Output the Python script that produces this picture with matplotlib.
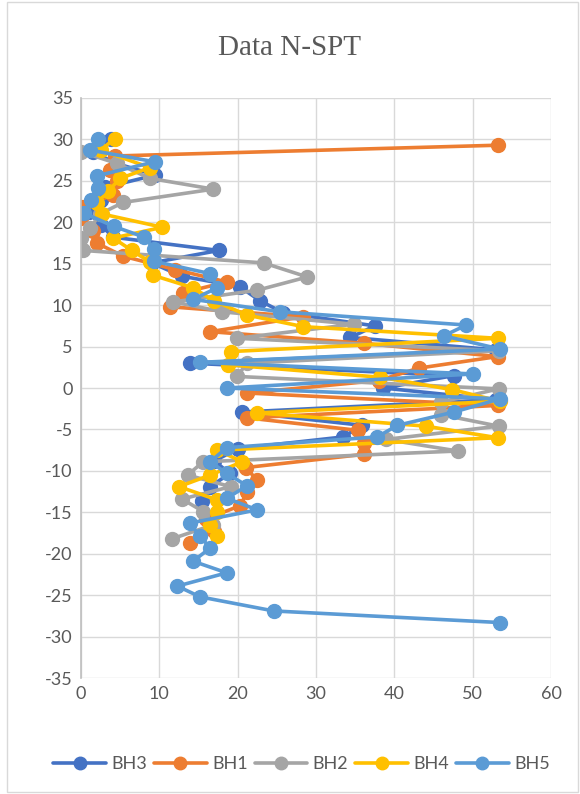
import matplotlib
matplotlib.use("Agg")
import matplotlib.pyplot as plt
from matplotlib.patches import Rectangle

plt.rcParams["axes.unicode_minus"] = False

series_names = ["BH3", "BH1", "BH2", "BH4", "BH5"]
colors = ["#4472C4", "#ED7D31", "#A5A5A5", "#FFC000", "#5B9BD5"]

bh3_nspt = [3.8, 1.5, 4.5, 9.5, 3.0, 2.5, 1.0, 2.5, 4.1, 17.6, 9.0, 12.9, 20.3, 22.9, 25.8,
            37.5, 34.4, 53.0, 13.9, 47.6, 38.6, 53.0, 20.5, 35.9, 33.5, 20.1, 17.0, 19.0, 16.5, 15.5]
bh3_elev = [30.0, 28.5, 27.1, 25.7, 24.2, 22.7, 21.2, 19.7, 18.2, 16.6, 15.1, 13.5, 12.2, 10.5, 9.1,
            7.5, 6.1, 4.6, 3.0, 1.5, 0.0, -1.4, -2.9, -4.5, -5.9, -7.3, -8.8, -10.3, -11.9, -13.6]

bh1_nspt = [53.2, 4.3, 3.7, 4.6, 4.1, 0.3, 0.0, 1.5, 2.0, 5.4, 12.0, 18.6, 13.0, 11.4, 28.4,
            16.5, 36.1, 53.2, 43.1, 38.0, 21.2, 53.2, 21.2, 35.3, 36.1, 36.1, 21.0, 22.5, 21.2,
            20.3, 16.0, 17.0, 13.9]
bh1_elev = [29.3, 28.0, 26.3, 25.0, 23.3, 21.9, 20.5, 19.0, 17.5, 15.9, 14.3, 12.8, 11.5, 9.8, 8.6,
            6.8, 5.4, 3.8, 2.4, 0.9, -0.6, -2.1, -3.6, -5.1, -6.6, -8.0, -9.6, -11.1, -12.6,
            -14.2, -15.8, -17.3, -18.7]

bh2_nspt = [0.0, 4.6, 8.8, 16.9, 5.4, 2.4, 1.2, 0.0, 0.3, 23.3, 28.9, 22.5, 11.8, 18.0, 34.8,
            19.9, 53.3, 21.2, 19.9, 53.3, 46.0, 45.9, 53.3, 38.9, 48.1, 15.6, 13.6, 19.1, 12.9,
            15.6, 16.9, 11.6]
bh2_elev = [28.5, 27.1, 25.3, 24.0, 22.4, 21.0, 19.3, 18.1, 16.6, 15.1, 13.4, 11.8, 10.4, 9.2, 7.7,
            6.0, 4.5, 3.0, 1.4, -0.1, -1.7, -3.2, -4.6, -6.2, -7.6, -8.9, -10.5, -11.9, -13.4,
            -14.9, -16.5, -18.2]

bh4_nspt = [4.3, 2.5, 8.8, 5.0, 3.5, 2.0, 2.7, 10.4, 4.1, 6.5, 8.8, 9.2, 14.3, 17.0, 21.2,
            28.4, 53.2, 19.1, 18.8, 38.2, 47.4, 53.5, 22.5, 44.0, 53.2, 17.4, 20.6, 16.5, 12.5,
            17.4, 17.4, 16.5, 17.4]
bh4_elev = [30.1, 28.7, 26.6, 25.3, 23.8, 22.3, 21.0, 19.4, 18.1, 16.6, 15.2, 13.6, 12.1, 10.5, 8.8,
            7.4, 6.0, 4.4, 2.8, 1.3, -0.2, -1.6, -3.0, -4.6, -6.0, -7.5, -8.9, -10.5, -11.9,
            -13.5, -14.9, -16.5, -17.9]

bh5_nspt = [2.2, 1.2, 9.4, 2.0, 2.2, 1.3, 0.4, 4.2, 8.1, 9.3, 9.3, 16.5, 17.4, 14.3, 25.4,
            49.2, 46.3, 53.5, 15.2, 50.1, 18.6, 53.5, 47.6, 40.4, 37.8, 18.6, 16.5, 18.6, 21.2,
            18.6, 22.5, 13.9, 15.2, 16.5, 14.3, 18.6, 12.3, 15.2, 24.6, 53.5]
bh5_elev = [30.0, 28.7, 27.3, 25.6, 24.1, 22.7, 21.1, 19.5, 18.2, 16.8, 15.3, 13.8, 12.1, 10.7, 9.2,
            7.6, 6.3, 4.7, 3.1, 1.7, 0.0, -1.3, -2.9, -4.5, -5.9, -7.2, -8.9, -10.3, -11.8,
            -13.3, -14.7, -16.3, -17.9, -19.3, -20.9, -22.3, -23.9, -25.2, -26.9, -28.3]

x_ticks = [0, 10, 20, 30, 40, 50, 60]
y_ticks = [35, 30, 25, 20, 15, 10, 5, 0, -5, -10, -15, -20, -25, -30, -35]

data = [(bh3_nspt, bh3_elev), (bh1_nspt, bh1_elev), (bh2_nspt, bh2_elev),
        (bh4_nspt, bh4_elev), (bh5_nspt, bh5_elev)]

fig = plt.figure(figsize=(5.8, 7.94), dpi=100)
fig.patches.append(Rectangle((0.012, 0.002), 0.985, 0.995, transform=fig.transFigure,
                             fill=False, edgecolor="#D9D9D9", linewidth=1.0))
ax = fig.add_axes([0.1397, 0.146, 0.8103, 0.7306])

for (xs, ys), name, c in zip(data, series_names, colors):
    ax.plot(xs, ys, color=c, linewidth=2.6, marker="o", markersize=10,
            markerfacecolor=c, markeredgecolor=c, label=name, solid_capstyle="round")

ax.set_xlim(0, 60)
ax.set_ylim(-35, 35)
ax.set_xticks(x_ticks)
ax.set_yticks(y_ticks)
ax.grid(True, color="#D9D9D9", linewidth=1.0)
ax.set_axisbelow(True)
for s in ["top", "right", "bottom"]:
    ax.spines[s].set_visible(False)
ax.spines["left"].set_color("#BFBFBF")
ax.spines["left"].set_linewidth(1.2)
ax.tick_params(length=0, labelsize=13, colors="#595959", pad=6)
for lab in ax.get_xticklabels() + ax.get_yticklabels():
    lab.set_fontfamily("Lato")

fig.text(0.5, 0.94, "Data N-SPT", ha="center", va="center", fontsize=21,
         fontfamily="Liberation Serif", color="#595959")

leg = fig.legend(loc="center", bbox_to_anchor=(0.52, 0.038), ncol=5, frameon=False,
                 prop={"family": "Lato", "size": 13}, handlelength=2.9,
                 columnspacing=0.4, handletextpad=0.3, markerscale=0.9)
for t in leg.get_texts():
    t.set_color("#595959")

fig.savefig("out.png", dpi=100)
